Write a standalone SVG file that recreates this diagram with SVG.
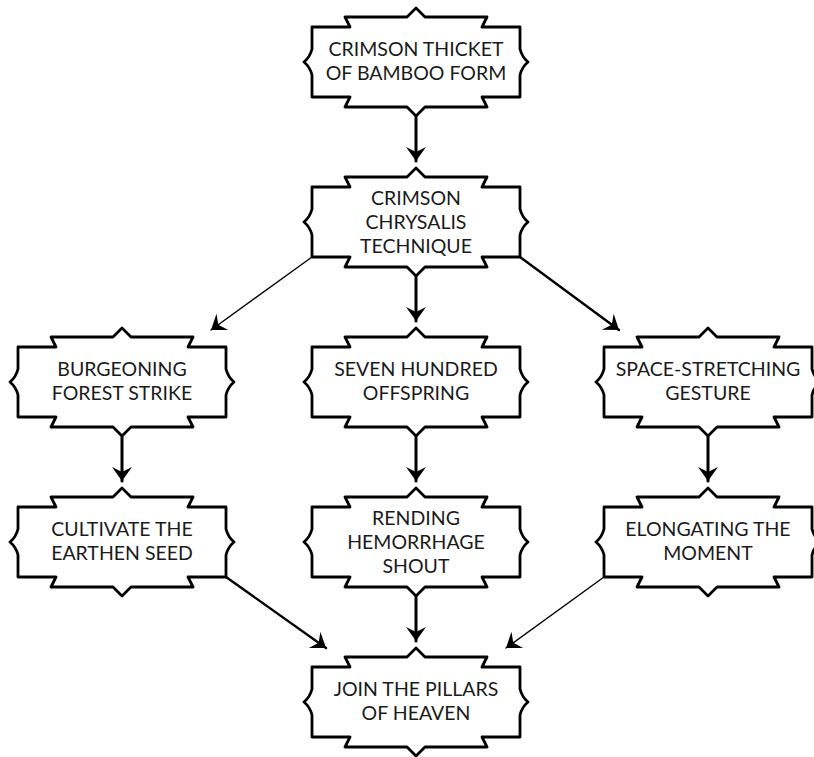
<svg xmlns="http://www.w3.org/2000/svg" width="814" height="757" viewBox="0 0 814 757">
<style>
.shape{fill:#ffffff;stroke:#000000;stroke-width:2.8;stroke-linejoin:round}
.lbl{font-family:Lato,"Noto Sans",sans-serif;font-size:19.5px;fill:#1a1a1a;text-anchor:middle}
.edge{fill:none;stroke:#000000;stroke-linecap:round}
.thick{stroke-width:3}
.mid{stroke-width:2.4}
.thin{stroke-width:1.4}
</style>
<defs>
<path id="scroll" d="M0,0 L38,0 L33,-10 L95,-10 L104,-19 L113,-10 L175,-10 L170,0 L208,0 L208,22 Q210,30 216,35 Q210,40 208,48 L208,70 L170,70 L175,80 L113,80 L104,89 L95,80 L33,80 L38,70 L0,70 L0,48 Q-2,40 -8,35 Q-2,30 0,22 Z"/>
<marker id="ah" markerUnits="userSpaceOnUse" markerWidth="24" markerHeight="24" viewBox="-16 -12 18 24" refX="0" refY="0" orient="auto">
<path d="M0,0 L-14,-10 L-9,0 L-14,10 Z" fill="#000000"/>
</marker>
</defs>
<rect x="0" y="0" width="814" height="757" fill="#ffffff"/>
<g id="connectors">
<path class="edge thick" d="M416,117 L416,161" marker-end="url(#ah)"/>
<path class="edge thin" d="M312,257 L211,330" marker-end="url(#ah)"/>
<path class="edge thick" d="M416,277 L416,321" marker-end="url(#ah)"/>
<path class="edge mid" d="M520,257 L619,330" marker-end="url(#ah)"/>
<path class="edge thick" d="M122,437 L122,481" marker-end="url(#ah)"/>
<path class="edge thick" d="M416,437 L416,481" marker-end="url(#ah)"/>
<path class="edge thick" d="M708,437 L708,481" marker-end="url(#ah)"/>
<path class="edge mid" d="M226,577 L326,648" marker-end="url(#ah)"/>
<path class="edge thick" d="M416,597 L416,641" marker-end="url(#ah)"/>
<path class="edge thin" d="M604,577 L506,648" marker-end="url(#ah)"/>
</g>
<g id="n1">
<use href="#scroll" class="shape" transform="translate(312,27)"/>
<text class="lbl" x="416" y="56">CRIMSON THICKET</text>
<text class="lbl" x="416" y="80">OF BAMBOO FORM</text>
</g>
<g id="n2">
<use href="#scroll" class="shape" transform="translate(312,187)"/>
<text class="lbl" x="416" y="205">CRIMSON</text>
<text class="lbl" x="416" y="229">CHRYSALIS</text>
<text class="lbl" x="416" y="253">TECHNIQUE</text>
</g>
<g id="n3">
<use href="#scroll" class="shape" transform="translate(18,347)"/>
<text class="lbl" x="122" y="376">BURGEONING</text>
<text class="lbl" x="122" y="400">FOREST STRIKE</text>
</g>
<g id="n4">
<use href="#scroll" class="shape" transform="translate(312,347)"/>
<text class="lbl" x="416" y="376">SEVEN HUNDRED</text>
<text class="lbl" x="416" y="400">OFFSPRING</text>
</g>
<g id="n5">
<use href="#scroll" class="shape" transform="translate(604,347)"/>
<text class="lbl" x="708" y="376">SPACE-STRETCHING</text>
<text class="lbl" x="708" y="400">GESTURE</text>
</g>
<g id="n6">
<use href="#scroll" class="shape" transform="translate(18,507)"/>
<text class="lbl" x="122" y="536">CULTIVATE THE</text>
<text class="lbl" x="122" y="560">EARTHEN SEED</text>
</g>
<g id="n7">
<use href="#scroll" class="shape" transform="translate(312,507)"/>
<text class="lbl" x="416" y="525">RENDING</text>
<text class="lbl" x="416" y="549">HEMORRHAGE</text>
<text class="lbl" x="416" y="573">SHOUT</text>
</g>
<g id="n8">
<use href="#scroll" class="shape" transform="translate(604,507)"/>
<text class="lbl" x="708" y="536">ELONGATING THE</text>
<text class="lbl" x="708" y="560">MOMENT</text>
</g>
<g id="n9">
<use href="#scroll" class="shape" transform="translate(312,667)"/>
<text class="lbl" x="416" y="696">JOIN THE PILLARS</text>
<text class="lbl" x="416" y="720">OF HEAVEN</text>
</g>
</svg>
